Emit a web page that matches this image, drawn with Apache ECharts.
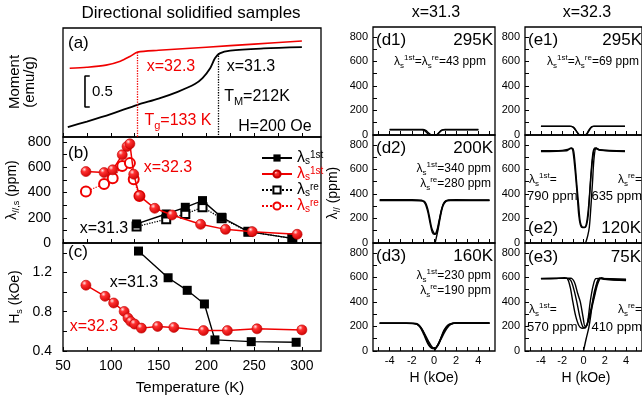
<!DOCTYPE html>
<html>
<head>
<meta charset="utf-8">
<script src="https://cdn.jsdelivr.net/npm/echarts@6/dist/echarts.min.js"></script>
<style>
  html, body { margin: 0; padding: 0; background: #fff; }
  #chart { width: 642px; height: 407px; }
</style>
</head>
<body>
<div id="chart"></div>
<script>
// ---- data ----
// (a) moment vs T (arbitrary units, scale bar = 0.5)
const tempRedA = [57, 75, 95, 110, 120, 128, 150, 200, 250, 300];
const momRedA  = [1.11, 1.125, 1.16, 1.225, 1.30, 1.37, 1.40, 1.45, 1.50, 1.55];
const tempBlkA = [55, 75, 100, 128, 150, 170, 188, 196, 204, 209, 214, 225, 260, 300];
const momBlkA  = [0.16, 0.25, 0.37, 0.52, 0.62, 0.73, 0.855, 0.95, 1.11, 1.27, 1.35, 1.395, 1.43, 1.45];
const tgLine = [128, 1.37];   // x=32.3 transition marker
const tmLine = [212, 1.355];  // x=31.3 transition marker
const scaleBarT = [78, 73, 73, 78];
const scaleBarM = [0.984, 0.984, 0.484, 0.484];

// (b) lambda_s vs T
const tempBlkB = [127, 158, 178, 196, 216, 244, 290];
const lamBlk1st = [151, 230, 283, 336, 204, 90, 37];
const lamBlkRe  = [130, 188, 230, 283, 196, 90, 37];
const tempRedB = [74, 93, 102, 112, 117, 120, 124, 130, 146, 164, 194, 220, 248, 295];
const lamRed1st = [566, 558, 580, 699, 765, 786, 545, 373, 275, 222, 148, 108, 90, 69];
const tempRedRe = [74, 93, 102, 112, 120, 124, 130];
const lamRedRe  = [408, 468, 513, 611, 633, 505, 373];

// (c) Hs vs T
const tempBlkC = [129, 160, 180, 198, 209, 247, 294];
const hsBlk = [1.418, 1.146, 1.018, 0.879, 0.513, 0.495, 0.489];
const tempRedC = [74, 94, 103, 114, 118, 121, 125, 132, 149, 166, 197, 222, 253, 300];
const hsRed = [1.07, 0.957, 0.889, 0.803, 0.735, 0.70, 0.674, 0.633, 0.65, 0.64, 0.608, 0.608, 0.626, 0.615];

const tTicks = [50, 75, 100, 125, 150, 175, 200, 225, 250, 275, 300];
const tLabels = [50, 100, 150, 200, 250, 300];
const lamTicks = [0, 100, 200, 300, 400, 500, 600, 700, 800];
const lamLabels = [0, 200, 400, 600, 800];
const hsTicks = [0.4, 0.6, 0.8, 1.0, 1.2, 1.4];
const hsLabels = [0.4, 0.8, 1.2];
const hTicks = [-5, -4, -3, -2, -1, 0, 1, 2, 3, 4, 5];
const hLabels = [-4, -2, 0, 2, 4];

// (d1)-(e3) lambda_// vs H loops, [H (kOe), ppm]
const d1Loop1 = [[-4,45],[-1.0,45],[-0.75,38],[-0.5,18],[-0.3,3],[-0.2,0],[0.15,0],[0.3,5],[0.5,25],[0.7,40],[1.0,45],[4,45]];
const d1Loop2 = [[-4,42],[-1.1,43],[-0.85,36],[-0.6,15],[-0.4,0],[0.25,0],[0.4,12],[0.6,32],[0.85,42],[4,43]];
const d2Loop1 = [[-4.9,352],[-2,352],[-1.1,348],[-0.8,320],[-0.55,250],[-0.35,160],[-0.15,85],[0.05,70],[0.25,100],[0.45,180],[0.7,280],[0.95,335],[1.3,350],[2,352],[5,350]];
const d2Loop2 = [[-4.9,345],[-2,346],[-0.9,340],[-0.6,290],[-0.4,210],[-0.2,120],[0,80],[0.15,72],[0.35,120],[0.6,240],[0.85,320],[1.2,345],[5,345]];
const d2Virgin = [[0.1,0],[0.2,40],[0.35,100],[0.55,200],[0.8,300],[1.1,340],[1.5,348],[5,348]];
const d3Loop1 = [[-4.9,228],[-2.5,228],[-1.8,225],[-1.3,200],[-0.9,130],[-0.5,50],[-0.1,20],[0.2,25],[0.6,90],[1.0,160],[1.4,210],[1.8,225],[2.5,230],[5,228]];
const d3Loop2 = [[-4.9,225],[-2.5,225],[-1.6,220],[-1.1,180],[-0.7,100],[-0.35,40],[0,20],[0.35,45],[0.7,120],[1.1,190],[1.5,220],[2,228],[5,226]];
const d3Loop3 = [[-4.9,226],[-2,226],[-1.4,215],[-0.9,150],[-0.5,80],[-0.15,30],[0.1,22],[0.5,80],[0.9,170],[1.3,215],[1.8,227],[5,227]];
const d3Virgin = [[0.05,0],[0.2,30],[0.4,60],[0.7,120],[1.1,190],[1.5,220],[2,228],[5,228]];
const e1Loop1 = [[-4,72],[-1.3,72],[-1.0,65],[-0.75,40],[-0.5,12],[-0.35,0],[0.15,0],[0.3,10],[0.5,40],[0.75,66],[1.0,72],[3.9,72]];
const e1Loop2 = [[-4,70],[-1.2,70],[-0.9,60],[-0.65,30],[-0.45,5],[-0.3,0],[0.25,0],[0.45,25],[0.7,58],[0.95,70],[3.9,70]];
const e2Loop1 = [[-4,752],[-2,755],[-1.4,765],[-1.15,775],[-1.0,750],[-0.8,600],[-0.6,400],[-0.45,230],[-0.3,150],[-0.1,125],[0.1,125],[0.3,150],[0.45,230],[0.6,420],[0.8,640],[1.0,760],[1.2,770],[1.6,755],[3.9,748]];
const e2Loop2 = [[-4,745],[-1.6,752],[-1.2,770],[-1.0,770],[-0.85,700],[-0.65,500],[-0.45,300],[-0.3,170],[-0.1,130],[0.1,128],[0.3,170],[0.5,320],[0.7,560],[0.9,740],[1.1,775],[1.4,760],[3.9,745]];
const e2Virgin = [[0.2,0],[0.4,60],[0.55,130],[0.7,300],[0.85,500],[1.0,700],[1.2,775],[1.5,760],[3.9,750]];
const e3Loop1 = [[-4,588],[-2.5,590],[-1.8,598],[-1.5,588],[-1.25,520],[-1.0,400],[-0.75,290],[-0.45,210],[-0.15,185],[0.15,190],[0.45,240],[0.75,340],[1.05,450],[1.35,550],[1.7,598],[2.1,585],[4,575]];
const e3Loop2 = [[-4,590],[-1.6,592],[-1.2,575],[-0.9,500],[-0.63,400],[-0.35,280],[-0.05,195],[0.2,190],[0.45,260],[0.75,360],[1.0,450],[1.3,560],[1.55,595],[1.9,585],[4,578]];
const e3Loop3 = [[-4,592],[-1.2,594],[-0.85,560],[-0.55,470],[-0.3,400],[-0.05,280],[0.15,200],[0.35,215],[0.63,400],[0.9,530],[1.15,590],[1.45,592],[4,585]];
const e3Virgin = [[0,0],[0.25,100],[0.5,190],[0.7,300],[0.9,430],[1.2,540],[1.5,590],[4,580]];

// ---- chart ----
const FONT = "'Liberation Sans', Arial, sans-serif";
const RED = '#f00000';
const chart = echarts.init(document.getElementById('chart'), null, { renderer: 'canvas' });

const pairs = (xs, ys) => xs.map((x, i) => [x, ys[i]]);
const redBall = new echarts.graphic.RadialGradient(0.35, 0.3, 0.75, [
  { offset: 0, color: '#ffe4e4' }, { offset: 0.3, color: '#ff3030' }, { offset: 1, color: '#cc0000' }
]);

// grid boxes: [left, top, width, height]
const boxes = [
  [63, 28, 258, 109], [63, 137, 258, 106], [63, 243, 258, 108],
  [373, 27, 122, 108], [373, 135, 122, 108], [373, 243, 122, 108],
  [525, 27, 122, 108], [525, 135, 122, 108], [525, 243, 122, 108]
];
const grid = boxes.map(b => ({ left: b[0], top: b[1], width: b[2], height: b[3], show: true, borderColor: '#000', borderWidth: 1.3, backgroundColor: 'transparent' }));

const tick = vals => ({ show: true, inside: true, length: 4, customValues: vals, lineStyle: { color: '#000', width: 1 } });
const noLine = { show: false, onZero: false };

const xAxis = boxes.map((b, i) => {
  const left = i < 3;
  const showLab = i === 2 || i === 5 || i === 8;
  return {
    type: 'value', gridIndex: i, position: 'bottom',
    min: left ? 50 : -5.5, max: left ? 320 : 5.5,
    axisLine: noLine, splitLine: { show: false },
    axisTick: tick(left ? tTicks : hTicks),
    axisLabel: { show: showLab, customValues: left ? tLabels : hLabels, color: '#000', fontFamily: FONT,
      fontSize: left ? 14 : 11, margin: left ? 8 : 4 }
  };
});

const yAxis = boxes.map((b, i) => {
  const base = { type: 'value', gridIndex: i, position: 'left', axisLine: noLine, splitLine: { show: false } };
  if (i === 0) return Object.assign(base, { min: 0, max: 1.76, axisTick: { show: false }, axisLabel: { show: false } });
  if (i === 1) return Object.assign(base, { min: 0, max: 840, axisTick: tick(lamTicks),
    axisLabel: { customValues: lamLabels, color: '#000', fontFamily: FONT, fontSize: 14, margin: 12 } });
  if (i === 2) return Object.assign(base, { min: 0.4, max: 1.5, axisTick: tick(hsTicks),
    axisLabel: { customValues: hsLabels, color: '#000', fontFamily: FONT, fontSize: 14, margin: 11, formatter: v => v.toFixed(1) } });
  return Object.assign(base, { min: 0, max: 880, axisTick: tick(lamTicks),
    axisLabel: { customValues: lamLabels, color: '#000', fontFamily: FONT, fontSize: 11, margin: 5 } });
});

function line(gi, data, extra) {
  return Object.assign({
    type: 'line', xAxisIndex: gi, yAxisIndex: gi, data: data, symbol: 'none', showSymbol: false,
    smooth: 0.3, silent: true, animation: false, lineStyle: { color: '#000', width: 1.4 }
  }, extra || {});
}

const series = [
  // (a)
  line(0, pairs(tempRedA, momRedA), { lineStyle: { color: RED, width: 1.6 },
    markLine: { symbol: 'none', silent: true, label: { show: false }, lineStyle: { color: RED, type: 'dotted', width: 1.3 },
      data: [[{ coord: [tgLine[0], tgLine[1]] }, { coord: [tgLine[0], 0] }]] } }),
  line(0, pairs(tempBlkA, momBlkA), { lineStyle: { color: '#000', width: 1.8 },
    markLine: { symbol: 'none', silent: true, label: { show: false }, lineStyle: { color: '#000', type: 'dotted', width: 1.3 },
      data: [[{ coord: [tmLine[0], tmLine[1]] }, { coord: [tmLine[0], 0] }]] } }),
  line(0, pairs(scaleBarT, scaleBarM), { smooth: false, lineStyle: { color: '#000', width: 1.6 } }),
  // (b)
  line(1, pairs(tempRedRe, lamRedRe), { name: 'rre', smooth: false, symbol: 'emptyCircle', showSymbol: true, symbolSize: 10,
    itemStyle: { color: RED, borderWidth: 1 }, lineStyle: { color: RED, width: 1.3, type: 'dotted' }, z: 2 }),
  line(1, pairs(tempBlkB, lamBlkRe), { name: 'bre', smooth: false, symbol: 'emptyRect', showSymbol: true, symbolSize: 8,
    itemStyle: { color: '#000', borderWidth: 1 }, lineStyle: { color: '#000', width: 1.3, type: 'dotted' }, z: 2 }),
  line(1, pairs(tempBlkB, lamBlk1st), { name: 'b1st', smooth: false, symbol: 'rect', showSymbol: true, symbolSize: 9,
    itemStyle: { color: '#000' }, lineStyle: { color: '#000', width: 1.4 }, z: 3 }),
  line(1, pairs(tempRedB, lamRed1st), { name: 'r1st', smooth: false, symbol: 'circle', showSymbol: true, symbolSize: 10,
    itemStyle: { color: redBall, borderColor: '#c00000', borderWidth: 0.6 }, lineStyle: { color: RED, width: 1.5 }, z: 4 }),
  // (c)
  line(2, pairs(tempBlkC, hsBlk), { smooth: false, symbol: 'rect', showSymbol: true, symbolSize: 9,
    itemStyle: { color: '#000' }, lineStyle: { color: '#000', width: 1.4 }, z: 3 }),
  line(2, pairs(tempRedC, hsRed), { smooth: false, symbol: 'circle', showSymbol: true, symbolSize: 10,
    itemStyle: { color: redBall, borderColor: '#c00000', borderWidth: 0.6 }, lineStyle: { color: RED, width: 1.5 }, z: 4 }),
  // right column loops
  line(3, d1Loop1), line(3, d1Loop2),
  line(4, d2Loop1), line(4, d2Loop2), line(4, d2Virgin),
  line(5, d3Loop1), line(5, d3Loop2), line(5, d3Loop3), line(5, d3Virgin),
  line(6, e1Loop1), line(6, e1Loop2),
  line(7, e2Loop1), line(7, e2Loop2), line(7, e2Virgin),
  line(8, e3Loop1), line(8, e3Loop2), line(8, e3Loop3), line(8, e3Virgin)
];

// rich text pieces (zrender style for graphic texts)
function richSet(size) {
  const s = Math.round(size * 0.66);
  return {
    n: { fontSize: size, lineHeight: size + 4, fontFamily: FONT },
    sb: { fontSize: s, lineHeight: s, verticalAlign: 'bottom', fontFamily: FONT },
    sp: { fontSize: s, lineHeight: s, verticalAlign: 'top', fontFamily: FONT }
  };
}
const L1 = '{n|λ}{sb|s}{sp|1st}';
const LR = '{n|λ}{sb|s}{sp|re}';

function txt(x, y, text, o) {
  o = o || {};
  const size = o.size || 16;
  return {
    type: 'text', x: x, y: y, rotation: o.rot || 0, silent: true, z: 100,
    style: {
      text: text, fill: o.color || '#000', fontSize: size, fontFamily: FONT,
      align: o.align || 'center', verticalAlign: 'middle', rich: o.rich ? richSet(size) : undefined
    }
  };
}

const graphic = [
  txt(191, 13, 'Directional solidified samples', { size: 17 }),
  txt(436, 13, 'x=31.3', { size: 16 }),
  txt(587, 13, 'x=32.3', { size: 16 }),
  // (a)
  txt(68, 43, '(a)', { size: 17, align: 'left' }),
  txt(171, 67, 'x=32.3', { color: RED }),
  txt(251, 67, 'x=31.3'),
  txt(92, 92, '0.5', { size: 15, align: 'left' }),
  txt(257, 97, '{n|T}{sb|M}{n|=212K}', { rich: true }),
  txt(178, 121, '{n|T}{sb|g}{n|=133 K}', { rich: true, color: RED }),
  txt(275, 127, 'H=200 Oe'),
  txt(15, 82, 'Moment', { size: 15, rot: Math.PI / 2 }),
  txt(30, 82, '(emu/g)', { size: 15, rot: Math.PI / 2 }),
  // (b)
  txt(68, 153, '(b)', { size: 17, align: 'left' }),
  txt(168, 168, 'x=32.3', { color: RED }),
  txt(104, 229, 'x=31.3'),
  txt(12, 190, '{n|λ}{sb|//,s}{n| (ppm)}', { size: 14, rich: true, rot: Math.PI / 2 }),
  // (c)
  txt(68, 252, '(c)', { size: 17, align: 'left' }),
  txt(134, 283, 'x=31.3'),
  txt(94, 327, 'x=32.3', { color: RED }),
  txt(15, 297, '{n|H}{sb|s}{n| (kOe)}', { size: 14, rich: true, rot: Math.PI / 2 }),
  txt(190, 388, 'Temperature (K)', { size: 15 }),
  // right column
  txt(333, 193, '{n|λ}{sb|//}{n| (ppm)}', { size: 14, rich: true, rot: Math.PI / 2 }),
  txt(434, 378, 'H (kOe)', { size: 14 }),
  txt(586, 378, 'H (kOe)', { size: 14 }),
  txt(376, 40, '(d1)', { size: 17, align: 'left' }),
  txt(493, 40, '295K', { size: 17, align: 'right' }),
  txt(440, 62, L1 + '{n|=}' + LR + '{n|=43 ppm}', { size: 12, rich: true }),
  txt(376, 148, '(d2)', { size: 17, align: 'left' }),
  txt(493, 148, '200K', { size: 17, align: 'right' }),
  txt(491, 169, L1 + '{n|=340 ppm}', { size: 12, rich: true, align: 'right' }),
  txt(491, 184, LR + '{n|=280 ppm}', { size: 12, rich: true, align: 'right' }),
  txt(376, 256, '(d3)', { size: 17, align: 'left' }),
  txt(493, 256, '160K', { size: 17, align: 'right' }),
  txt(491, 276, L1 + '{n|=230 ppm}', { size: 12, rich: true, align: 'right' }),
  txt(491, 291, LR + '{n|=190 ppm}', { size: 12, rich: true, align: 'right' }),
  txt(528, 40, '(e1)', { size: 17, align: 'left' }),
  txt(642, 40, '295K', { size: 17, align: 'right' }),
  txt(593, 62, L1 + '{n|=}' + LR + '{n|=69 ppm}', { size: 12, rich: true }),
  txt(529, 180, L1 + '{n|=}', { size: 12, rich: true, align: 'left' }),
  txt(527, 196, '790 ppm', { size: 13, align: 'left' }),
  txt(642, 180, LR + '{n|=}', { size: 12, rich: true, align: 'right' }),
  txt(642, 196, '635 ppm', { size: 13, align: 'right' }),
  txt(528, 228, '(e2)', { size: 17, align: 'left' }),
  txt(641, 228, '120K', { size: 17, align: 'right' }),
  txt(528, 257, '(e3)', { size: 17, align: 'left' }),
  txt(641, 257, '75K', { size: 17, align: 'right' }),
  txt(529, 310, L1 + '{n|=}', { size: 12, rich: true, align: 'left' }),
  txt(527, 327, '570 ppm', { size: 13, align: 'left' }),
  txt(642, 310, LR + '{n|=}', { size: 12, rich: true, align: 'right' }),
  txt(642, 327, '410 ppm', { size: 13, align: 'right' })
];

const legendText = { b1st: '{n|λ}{sb|s}{sp|1st}', r1st: '{rn|λ}{rsb|s}{rsp|1st}', bre: '{n|λ}{sb|s}{sp|re}', rre: '{rn|λ}{rsb|s}{rsp|re}' };

chart.setOption({
  animation: false,
  backgroundColor: '#fff',
  grid: grid,
  xAxis: xAxis,
  yAxis: yAxis,
  series: series,
  graphic: graphic,
  legend: {
    orient: 'vertical', left: 256, top: 145, itemWidth: 30, itemHeight: 9, itemGap: 0,
    selectedMode: false, data: ['b1st', 'r1st', 'bre', 'rre'],
    formatter: n => legendText[n],
    textStyle: {
      fontFamily: FONT,
      rich: {
        n: { fontSize: 16, lineHeight: 16, color: '#000', fontFamily: FONT },
        sb: { fontSize: 10, lineHeight: 8, verticalAlign: 'bottom', color: '#000', fontFamily: FONT },
        sp: { fontSize: 10, lineHeight: 8, verticalAlign: 'top', color: '#000', fontFamily: FONT },
        rn: { fontSize: 16, lineHeight: 16, color: RED, fontFamily: FONT },
        rsb: { fontSize: 10, lineHeight: 8, verticalAlign: 'bottom', color: RED, fontFamily: FONT },
        rsp: { fontSize: 10, lineHeight: 8, verticalAlign: 'top', color: RED, fontFamily: FONT }
      }
    }
  }
});
</script>
</body>
</html>
